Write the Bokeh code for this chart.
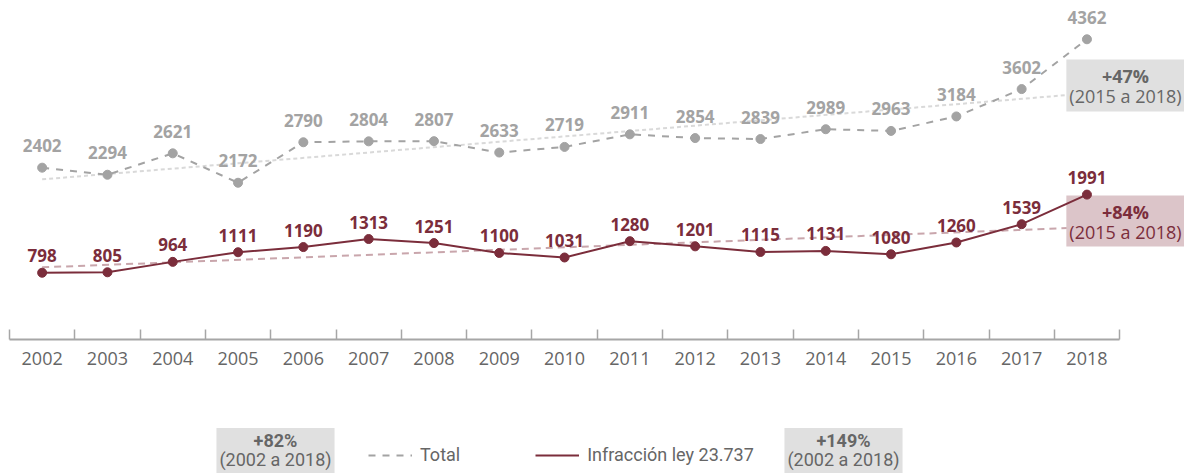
import numpy as np
from bokeh.plotting import figure
from bokeh.layouts import column
from bokeh.models import (ColumnDataSource, LabelSet, Label, FixedTicker, Range1d,
                          Legend, LegendItem)
from bokeh.core.properties import value
from bokeh.embed import file_html
from bokeh.resources import INLINE

# ---------------- data ----------------
years = [2002, 2003, 2004, 2005, 2006, 2007, 2008, 2009, 2010,
         2011, 2012, 2013, 2014, 2015, 2016, 2017, 2018]
total = [2402, 2294, 2621, 2172, 2790, 2804, 2807, 2633, 2719,
         2911, 2854, 2839, 2989, 2963, 3184, 3602, 4362]
infraccion = [798, 805, 964, 1111, 1190, 1313, 1251, 1100, 1031,
              1280, 1201, 1115, 1131, 1080, 1260, 1539, 1991]
tick_labels = [str(y) for y in years]
series_names = ["Total", "Infracción ley 23.737"]
total_change_recent = ["+47%", "(2015 a 2018)"]
inf_change_recent = ["+84%", "(2015 a 2018)"]
total_change_all = ["+82%", "(2002 a 2018)"]
inf_change_all = ["+149%", "(2002 a 2018)"]

# ---------------- styles ----------------
GRAY = "#a3a3a3"
WINE = "#7b2d3b"
TXT = "#666666"
FONT = "Open Sans"
FONT2 = "Roboto"

idx = list(range(len(years)))
src = ColumnDataSource(dict(
    x=idx, total=total, inf=infraccion,
    total_lbl=[str(v) for v in total], inf_lbl=[str(v) for v in infraccion]))

W = 1184
H_TOP, H_BOT = 385, 88
FB = 339          # frame bottom (px from top)
CAT = 65.3        # px per category
x0 = -0.5 - 9 / CAT
p = figure(width=W, height=H_TOP, output_backend="svg", toolbar_location=None,
           x_range=Range1d(x0, x0 + W / CAT), y_range=Range1d(-221, 4954),
           y_axis_location=None, min_border_left=0, min_border_right=0,
           min_border_top=0, min_border_bottom=H_TOP - FB)
p.outline_line_color = None
p.grid.grid_line_color = None

# trend lines (linear fit of each series)
ends = [idx[0], idx[-1]]
ct = np.polyfit(idx, total, 1)
ci = np.polyfit(idx, infraccion, 1)
p.line(ends, list(np.polyval(ct, ends)), line_color="#d9d9d9", line_width=2, line_dash="4 3")
p.line(ends, list(np.polyval(ci, ends)), line_color="#c9a6ac", line_width=2, line_dash="7 5")

r_total = p.line("x", "total", source=src, line_color=GRAY, line_width=2, line_dash="7 7")
p.scatter("x", "total", source=src, size=9, fill_color=GRAY, line_color=GRAY)
r_inf = p.line("x", "inf", source=src, line_color=WINE, line_width=2, level="overlay")
p.scatter("x", "inf", source=src, size=9, fill_color=WINE, line_color=WINE, level="overlay")

p.add_layout(LabelSet(x="x", y="total", text="total_lbl", source=src, y_offset=22,
                      text_align="center", text_baseline="middle", text_font=value(FONT),
                      text_font_style="bold", text_font_size="17px", text_color=GRAY))
p.add_layout(LabelSet(x="x", y="inf", text="inf_lbl", source=src, y_offset=17,
                      text_align="center", text_baseline="middle", text_font=value(FONT),
                      text_font_style="bold", text_font_size="17px", text_color=WINE))

# x axis
ax = p.xaxis[0]
ax.ticker = FixedTicker(ticks=idx, minor_ticks=[i - 0.5 for i in range(len(idx) + 1)])
ax.major_label_overrides = {i: t for i, t in zip(idx, tick_labels)}
ax.bounds = (-0.5, len(idx) - 0.5)
ax.axis_line_color = "#a6a6a6"
ax.axis_line_width = 2
ax.major_tick_in = 0
ax.major_tick_out = 0
ax.minor_tick_in = 10
ax.minor_tick_out = 0
ax.minor_tick_line_color = "#a6a6a6"
ax.minor_tick_line_width = 1.5
ax.major_label_standoff = 12
ax.major_label_text_font = FONT
ax.major_label_text_font_size = "18px"
ax.major_label_text_color = TXT


def box(fig, base, cx, y1, y2, top, bottom, lines, bg, color, font, size, half_w):
    # base: page y of the figure frame's bottom (screen units measured upward from it)
    th = size * 1.2
    pad_top = max(0, int(round(y2 - th / 2 - top)))
    pad_bot = max(0, int(round(bottom - y2 - th / 2)))
    lab2 = Label(x=cx, y=base - (top + bottom) / 2, x_units="screen", y_units="screen",
                 text=lines[1], text_align="center", text_baseline="middle",
                 text_font=font, text_font_size=f"{size}px", text_color=color,
                 background_fill_color=bg,
                 padding=dict(left=half_w, right=half_w, top=pad_top, bottom=pad_bot))
    lab1 = Label(x=cx, y=base - y1, x_units="screen", y_units="screen",
                 text=lines[0], text_align="center", text_baseline="middle",
                 text_font=font, text_font_style="bold", text_font_size=f"{size}px",
                 text_color=color)
    fig.add_layout(lab2)
    fig.add_layout(lab1)


box(p, FB, 1125, 75, 95, 60, 110, total_change_recent, "#e0e0e0", TXT, FONT, 18, 3)
box(p, FB, 1125, 211, 231, 196, 245, inf_change_recent, "#dcc5c9", WINE, FONT, 18, 3)

# ---------------- bottom strip: legend and long-term changes ----------------
q = figure(width=W, height=H_BOT, output_backend="svg", toolbar_location=None,
           x_range=Range1d(0, 1), y_range=Range1d(0, 1),
           x_axis_location=None, y_axis_location=None,
           min_border_left=0, min_border_right=0, min_border_top=0, min_border_bottom=0)
q.outline_line_color = None
q.grid.grid_line_color = None
BASE = H_TOP + H_BOT  # page y of bottom strip's frame bottom

# legend-only renderers (kept outside the visible range of this strip)
lt = q.line([-3, -2], [-3, -2], line_color=GRAY, line_width=2, line_dash="7 7")
li = q.line([-3, -2], [-3, -2], line_color=WINE, line_width=2)
legend = Legend(items=[LegendItem(label=series_names[0], renderers=[lt]),
                       LegendItem(label=series_names[1], renderers=[li])],
                location=(368, BASE - 465), orientation="horizontal", spacing=75,
                glyph_width=44, glyph_height=20, label_standoff=8, padding=0, margin=0,
                border_line_color=None, background_fill_alpha=0,
                label_text_font=FONT2, label_text_font_size="18px",
                label_text_color=TXT, label_text_baseline="middle")
q.add_layout(legend)

box(q, BASE, 275, 440, 459, 427, 473, total_change_all, "#e0e0e0", TXT, FONT2, 18, 3)
box(q, BASE, 843, 440, 459, 427, 473, inf_change_all, "#e0e0e0", TXT, FONT2, 18, 3)

open("out.html", "w").write(file_html(column(p, q), INLINE))
